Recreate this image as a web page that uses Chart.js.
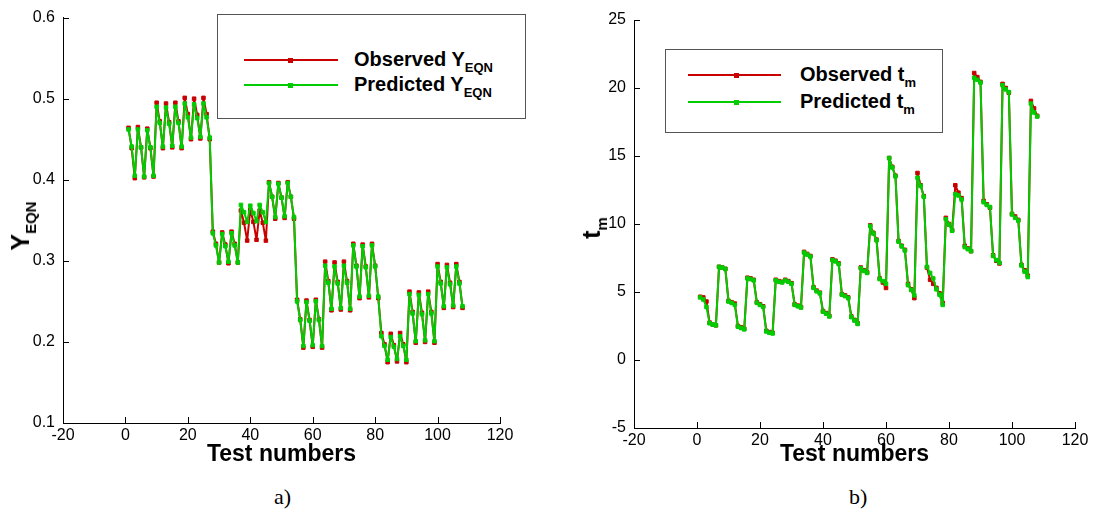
<!DOCTYPE html>
<html>
<head>
<meta charset="utf-8">
<script src="https://cdn.jsdelivr.net/npm/chart.js@4.4.1/dist/chart.umd.min.js"></script>
<style>
  html, body { margin: 0; padding: 0; background: #fff; }
  body { width: 1104px; height: 524px; position: relative; overflow: hidden; font-family: 'Liberation Sans', Arial, sans-serif; color: #000; }
  .panel { position: absolute; top: 0; height: 480px; }
  #panelA { left: 0; width: 560px; }
  #panelB { left: 571px; width: 533px; }
  .legend { position: absolute; border: 1px solid #555; background: #fff; box-sizing: border-box; }
  .sample { position: absolute; height: 2px; }
  .sample i { position: absolute; width: 5px; height: 5px; top: -1.5px; margin-left: -2.5px; }
  .label { position: absolute; font-weight: bold; font-size: 20px; line-height: 24px; white-space: nowrap; }
  .label sub { font-size: 13px; vertical-align: -6px; line-height: 0; }
  .ytitle { position: absolute; font-weight: bold; font-size: 25px; line-height: 30px; white-space: nowrap; transform: translate(-50%, -50%) rotate(-90deg); }
  .ytitle sub { font-size: 15px; vertical-align: -7px; line-height: 0; }
  .caption { position: absolute; font-family: 'Liberation Serif', 'Times New Roman', serif; font-size: 22px; line-height: 26px; }
</style>
</head>
<body>
<canvas id="panelA" class="panel" width="560" height="480"></canvas>
<canvas id="panelB" class="panel" width="533" height="480"></canvas>

<div class="ytitle" style="left:20px; top:226px;">Y<sub>EQN</sub></div>
<div class="ytitle" style="left:591px; top:228px;">t<sub>m</sub></div>

<div class="legend" style="left:217px; top:14px; width:309px; height:105px;">
  <div class="sample" style="left:26px; top:44px; width:94px; background:#c80000;"><i style="left:46px; background:#c80000;"></i></div>
  <div class="sample" style="left:26px; top:69px; width:94px; background:#00cc00;"><i style="left:46px; background:#00cc00;"></i></div>
  <div class="label" style="left:136px; top:32px;">Observed Y<sub>EQN</sub></div>
  <div class="label" style="left:136px; top:57px;">Predicted Y<sub>EQN</sub></div>
</div>

<div class="legend" style="left:665px; top:49px; width:278px; height:84px;">
  <div class="sample" style="left:22px; top:24px; width:93px; background:#c80000;"><i style="left:48px; background:#c80000;"></i></div>
  <div class="sample" style="left:22px; top:51px; width:93px; background:#00cc00;"><i style="left:48px; background:#00cc00;"></i></div>
  <div class="label" style="left:134px; top:12px;">Observed t<sub>m</sub></div>
  <div class="label" style="left:134px; top:39px;">Predicted t<sub>m</sub></div>
</div>

<div class="caption" style="left:274px; top:484px;">a)</div>
<div class="caption" style="left:849px; top:484px;">b)</div>

<script>
// test numbers 1..108
const testNumbers = Array.from({ length: 108 }, (_, i) => i + 1)

const xTicks = [-20, 0, 20, 40, 60, 80, 100, 120]
const yEqnTicks = [0.1, 0.2, 0.3, 0.4, 0.5, 0.6]
const tmTicks = [-5, 0, 5, 10, 15, 20, 25]

const observedYeqn = [
  0.464, 0.439, 0.402, 0.465, 0.440, 0.403, 0.463, 0.439, 0.404,
  0.495, 0.472, 0.439, 0.494, 0.471, 0.440, 0.495, 0.472, 0.439,
  0.501, 0.481, 0.450, 0.500, 0.480, 0.451, 0.501, 0.481, 0.450,
  0.336, 0.321, 0.298, 0.335, 0.320, 0.297, 0.336, 0.321, 0.298,
  0.362, 0.347, 0.325, 0.363, 0.348, 0.326, 0.362, 0.347, 0.325,
  0.397, 0.379, 0.352, 0.396, 0.378, 0.353, 0.397, 0.379, 0.352,
  0.252, 0.228, 0.193, 0.251, 0.227, 0.194, 0.252, 0.228, 0.193,
  0.299, 0.275, 0.239, 0.298, 0.274, 0.240, 0.299, 0.275, 0.239,
  0.321, 0.294, 0.254, 0.320, 0.293, 0.255, 0.321, 0.294, 0.254,
  0.211, 0.197, 0.175, 0.210, 0.196, 0.176, 0.211, 0.197, 0.175,
  0.262, 0.237, 0.199, 0.261, 0.236, 0.200, 0.262, 0.237, 0.199,
  0.296, 0.274, 0.242, 0.295, 0.273, 0.243, 0.296, 0.274, 0.242
]

const predictedYeqn = [
  0.462, 0.441, 0.405, 0.462, 0.440, 0.404, 0.461, 0.440, 0.405,
  0.490, 0.470, 0.441, 0.489, 0.469, 0.442, 0.490, 0.470, 0.441,
  0.494, 0.477, 0.452, 0.493, 0.476, 0.453, 0.494, 0.477, 0.452,
  0.334, 0.319, 0.298, 0.333, 0.318, 0.299, 0.334, 0.319, 0.298,
  0.369, 0.360, 0.348, 0.368, 0.359, 0.349, 0.369, 0.360, 0.348,
  0.396, 0.379, 0.354, 0.395, 0.378, 0.355, 0.396, 0.379, 0.354,
  0.250, 0.227, 0.195, 0.249, 0.226, 0.196, 0.250, 0.227, 0.195,
  0.294, 0.273, 0.241, 0.293, 0.272, 0.242, 0.294, 0.273, 0.241,
  0.319, 0.293, 0.256, 0.318, 0.292, 0.257, 0.319, 0.293, 0.256,
  0.207, 0.195, 0.178, 0.206, 0.194, 0.179, 0.207, 0.195, 0.178,
  0.259, 0.235, 0.201, 0.258, 0.234, 0.202, 0.259, 0.235, 0.201,
  0.293, 0.272, 0.244, 0.292, 0.271, 0.245, 0.293, 0.272, 0.244
]

const observedTm = [
  4.65, 4.6, 4.3, 2.75, 2.6, 2.55, 6.85, 6.8, 6.7,
  4.35, 4.25, 4.15, 2.5, 2.4, 2.3, 6.05, 6.0, 5.9,
  4.25, 4.1, 3.95, 2.15, 2.05, 2.0, 5.9, 5.8, 5.75,
  5.9, 5.8, 5.65, 4.1, 4.0, 3.9, 7.95, 7.8, 7.65,
  5.35, 5.1, 4.95, 3.6, 3.45, 3.25, 7.4, 7.3, 7.1,
  4.85, 4.75, 4.6, 3.2, 2.95, 2.7, 6.8, 6.6, 6.45,
  9.9, 9.35, 8.85, 6.0, 5.7, 5.3, 14.85, 14.2, 13.55,
  8.75, 8.4, 8.1, 5.6, 5.2, 4.55, 13.75, 12.85, 12.05,
  6.8, 5.9, 5.6, 5.3, 4.9, 4.2, 10.45, 10.0, 9.55,
  12.85, 12.3, 11.9, 8.4, 8.2, 8.0, 21.1, 20.8, 20.45,
  11.7, 11.45, 11.2, 7.7, 7.3, 7.1, 20.3, 20.0, 19.65,
  10.75, 10.55, 10.3, 7.0, 6.6, 6.2, 19.05, 18.5, 17.95
]

const predictedTm = [
  4.6, 4.45, 3.9, 2.7, 2.6, 2.55, 6.85, 6.8, 6.7,
  4.3, 4.2, 4.05, 2.45, 2.35, 2.25, 6.0, 5.95, 5.85,
  4.2, 4.05, 3.9, 2.1, 2.0, 1.95, 5.85, 5.75, 5.7,
  5.85, 5.75, 5.6, 4.05, 3.95, 3.85, 7.9, 7.75, 7.6,
  5.3, 5.05, 4.9, 3.55, 3.4, 3.2, 7.35, 7.25, 7.05,
  4.8, 4.7, 4.55, 3.15, 2.9, 2.65, 6.75, 6.55, 6.4,
  9.85, 9.3, 8.8, 5.95, 5.8, 5.6, 14.85, 14.15, 13.5,
  8.7, 8.35, 8.05, 5.5, 5.15, 4.75, 13.4, 12.8, 12.0,
  6.85, 6.4, 6.0, 5.2, 4.8, 4.05, 10.35, 9.95, 9.5,
  12.2, 12.1, 11.8, 8.3, 8.15, 8.0, 20.75, 20.6, 20.4,
  11.6, 11.4, 11.25, 7.65, 7.35, 7.15, 20.2, 19.9, 19.7,
  10.7, 10.45, 10.25, 6.95, 6.5, 6.1, 18.85, 18.2, 17.9
]

const RED = '#c80000'
const GREEN = '#00cc00'

// Tecplot style: ticks point into the plot
const inwardTicks = {
  id: 'inwardTicks',
  afterDraw(chart) {
    const { ctx, chartArea } = chart
    const x = chart.scales.x
    const y = chart.scales.y
    ctx.save()
    ctx.strokeStyle = '#000'
    ctx.lineWidth = 1
    ctx.beginPath()
    x.ticks.forEach(t => {
      const px = Math.round(x.getPixelForValue(t.value)) + 0.5
      ctx.moveTo(px, chartArea.bottom)
      ctx.lineTo(px, chartArea.bottom - 6)
    })
    y.ticks.forEach(t => {
      const py = Math.round(y.getPixelForValue(t.value)) + 0.5
      ctx.moveTo(chartArea.left, py)
      ctx.lineTo(chartArea.left + 6, py)
    })
    ctx.stroke()
    ctx.restore()
  }
}

function series(label, values, color, order) {
  return {
    label,
    data: values.map((v, i) => ({ x: testNumbers[i], y: v })),
    borderColor: color,
    backgroundColor: color,
    borderWidth: 2,
    borderJoinStyle: 'round',
    borderCapStyle: 'round',
    pointStyle: 'rect',
    pointRadius: 2.5,
    pointBorderWidth: 1,
    pointBackgroundColor: color,
    pointBorderColor: color,
    tension: 0,
    order
  }
}

function makePanel(id, obs, pred, yTicks, yFormat, pad, yWidth, xHeight) {
  const axisFont = { family: "'Liberation Sans', Arial, sans-serif", size: 16 }
  return new Chart(document.getElementById(id), {
    type: 'line',
    data: {
      datasets: [
        series('Observed', obs, RED, 2),
        series('Predicted', pred, GREEN, 1)
      ]
    },
    options: {
      responsive: false,
      animation: false,
      layout: { padding: pad },
      plugins: { legend: { display: false }, tooltip: { enabled: false } },
      scales: {
        x: {
          type: 'linear',
          min: xTicks[0],
          max: xTicks[xTicks.length - 1],
          afterBuildTicks: s => { s.ticks = xTicks.map(v => ({ value: v })) },
          afterFit: s => { s.height = xHeight },
          ticks: { color: '#000', font: axisFont, padding: 3, maxRotation: 0 },
          grid: { drawOnChartArea: false, drawTicks: false },
          border: { color: '#000', width: 1 },
          title: {
            display: true,
            text: 'Test numbers',
            color: '#000',
            font: { family: "'Liberation Sans', Arial, sans-serif", size: 23, weight: 'bold' },
            padding: { top: 0, bottom: 12 }
          }
        },
        y: {
          type: 'linear',
          min: yTicks[0],
          max: yTicks[yTicks.length - 1],
          afterBuildTicks: s => { s.ticks = yTicks.map(v => ({ value: v })) },
          afterFit: s => { s.width = yWidth },
          ticks: { color: '#000', font: axisFont, padding: 8, callback: yFormat },
          grid: { drawOnChartArea: false, drawTicks: false },
          border: { color: '#000', width: 1 }
        }
      }
    },
    plugins: [inwardTicks]
  })
}

makePanel('panelA', observedYeqn, predictedYeqn, yEqnTicks, v => v.toFixed(1),
  { top: 14, right: 60, left: 0, bottom: 0 }, 63, 57)
makePanel('panelB', observedTm, predictedTm, tmTicks, v => String(v),
  { top: 20, right: 29, left: 0, bottom: 0 }, 63, 52)
</script>
</body>
</html>
